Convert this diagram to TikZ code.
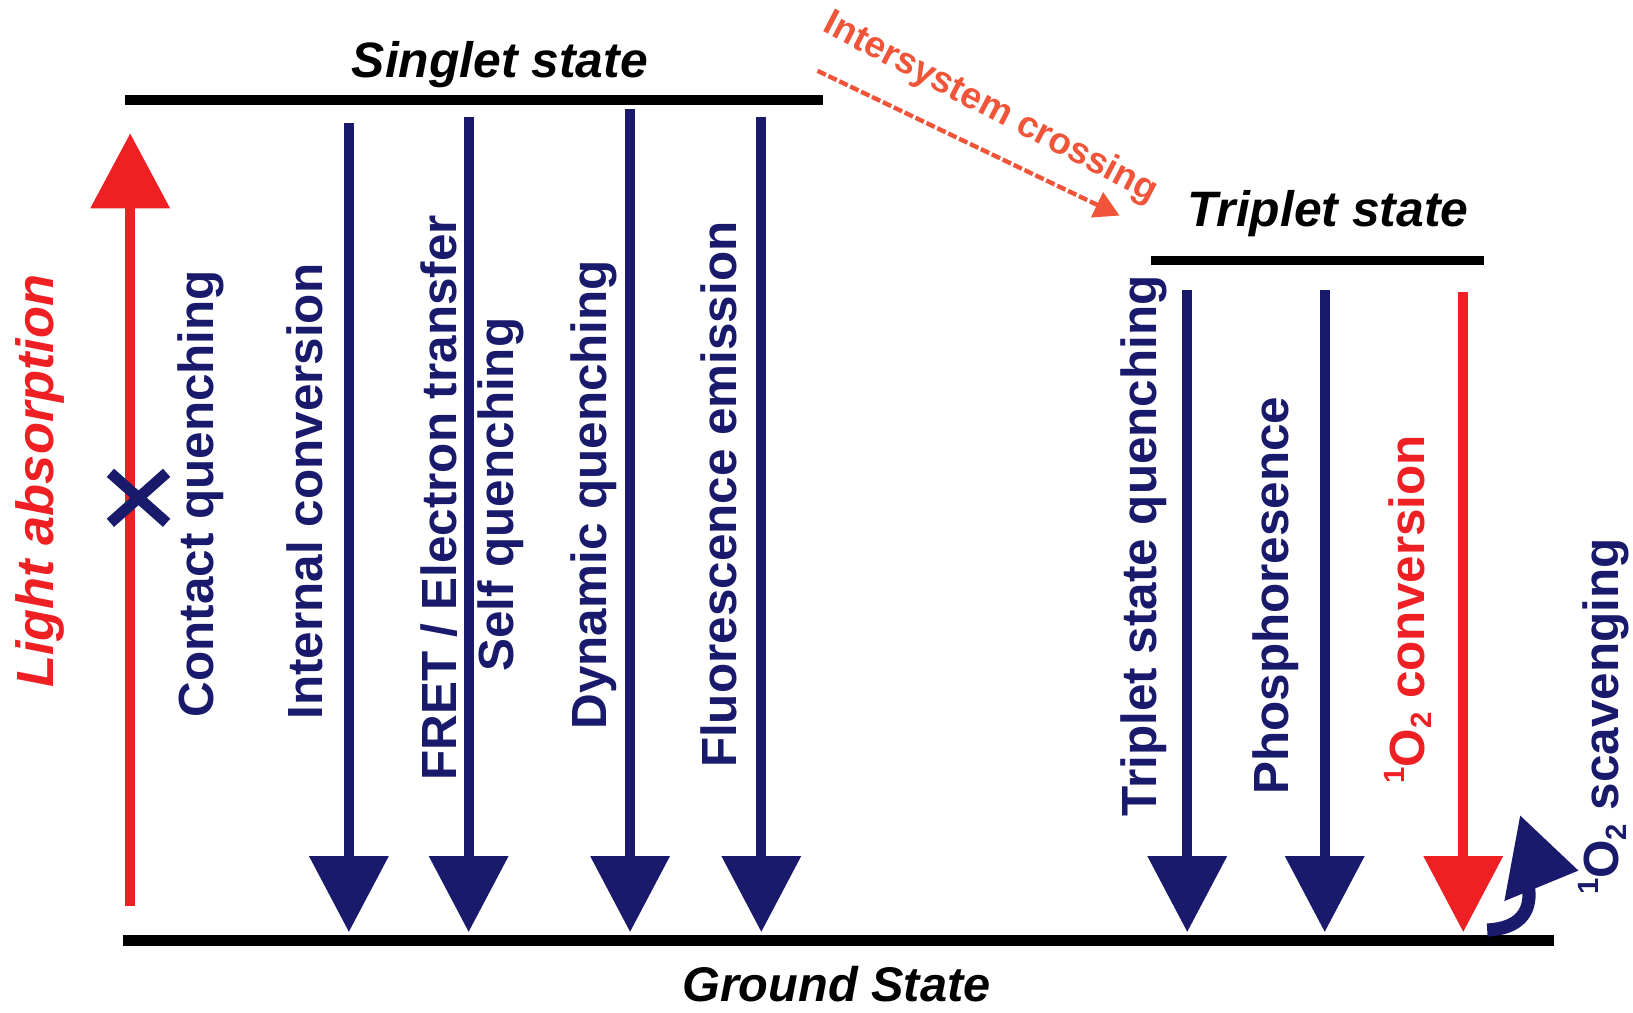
\documentclass[tikz,border=0pt]{standalone}
\usepackage{fontspec}
\setmainfont{Liberation Sans}
\usetikzlibrary{arrows.meta,calc}
\definecolor{navyc}{HTML}{1A1A6C}
\definecolor{redc}{HTML}{EE2024}
\definecolor{iscred}{HTML}{F0553A}
\newcommand{\singox}{\raisebox{0.75ex}{\fontsize{8}{8}\selectfont 1}O\raisebox{-0.3ex}{\fontsize{8}{8}\selectfont 2}}
\tikzset{
  lvl/.style={black, line width=2.5pt},
  dn/.style={navyc, line width=2.8pt, -{Triangle[width=7.4mm,length=7.3mm]}},
  dnred/.style={redc, line width=2.8pt, -{Triangle[width=7.4mm,length=7.3mm]}},
  lbl/.style={navyc, font=\bfseries\fontsize{13.5}{16}\selectfont, rotate=90, inner sep=0pt},
  redlbl/.style={lbl, redc},
  title/.style={black, font=\bfseries\itshape\fontsize{13.6}{16}\selectfont, inner sep=0pt}
}
\begin{document}
\begin{tikzpicture}[x=0.1mm,y=-0.1mm]
\useasboundingbox[fill=white] (0,0) rectangle (1568,972);
% levels
\coordinate (s1) at (120,96); \coordinate (s2) at (790,96);
\coordinate (t1) at (1105,250); \coordinate (t2) at (1425,250);
\coordinate (g1) at (118,903); \coordinate (g2) at (1492,903);
\draw[lvl] (s1) -- (s2);
\draw[lvl] (t1) -- (t2);
\draw[lvl, line width=2.8pt] (g1) -- (g2);
% titles
\node[title] (singlet) at (480,62) {Singlet state};
\node[title] (triplet) at (1275,205) {Triplet state};
\node[title, font=\bfseries\itshape\fontsize{13.3}{16}\selectfont] (ground) at (803,945) {Ground State};
% light absorption
\coordinate (la1) at (125,870); \coordinate (la2) at (125,128);
\draw[redc, line width=2.8pt, -{Triangle[width=7.4mm,length=7.2mm]}] (la1) -- (la2);
\node[redlbl, font=\bfseries\itshape\fontsize{14.3}{16}\selectfont] (lab) at (38,462) {Light absorption};
% cross
\coordinate (xc) at (133,478);
\draw[navyc, line width=3pt] ($(xc)+(-27,-24)$) -- ($(xc)+(27,24)$);
\draw[navyc, line width=3pt] ($(xc)+(-27,24)$) -- ($(xc)+(27,-24)$);
\node[lbl] (cq) at (193,474) {Contact quenching};
% singlet decays
\coordinate (ic1) at (335,118); \coordinate (ic2) at (335,895);
\coordinate (fr1) at (450,112); \coordinate (fr2) at (450,895);
\coordinate (dq1) at (605,105); \coordinate (dq2) at (605,895);
\coordinate (fe1) at (731,112); \coordinate (fe2) at (731,895);
\draw[dn] (ic1) -- (ic2);
\draw[dn] (fr1) -- (fr2);
\draw[dn] (dq1) -- (dq2);
\draw[dn] (fe1) -- (fe2);
\node[lbl] (icl) at (293,472) {Internal conversion};
\node[lbl] (frl) at (422,478) {FRET / Electron transfer};
\node[lbl] (sql) at (481,475) {Self quenching};
\node[lbl] (dql) at (570,475) {Dynamic quenching};
\node[lbl] (fel) at (690,475) {Fluorescence emission};
% intersystem crossing
\coordinate (isc1) at (785,68); \coordinate (isc2) at (1075,207);
\draw[iscred, line width=1.2pt, dash pattern=on 2.5pt off 0.8pt, -{Triangle[width=2.6mm,length=2.4mm]}] (isc1) -- (isc2);
\node[iscred, font=\bfseries\fontsize{10.1}{12}\selectfont, rotate=-27.5, inner sep=0pt] (iscl) at (951,104) {Intersystem crossing};
% triplet decays
\coordinate (tq1) at (1140,278); \coordinate (tq2) at (1140,895);
\coordinate (ph1) at (1272,278); \coordinate (ph2) at (1272,895);
\coordinate (oc1) at (1405,280); \coordinate (oc2) at (1405,895);
\draw[dn] (tq1) -- (tq2);
\draw[dn] (ph1) -- (ph2);
\draw[dnred] (oc1) -- (oc2);
\node[lbl] (tql) at (1098,524) {Triplet state quenching};
\node[lbl] (phl) at (1225,572) {Phosphoresence};
\node[redlbl] (ocl) at (1352,585) {\singox{} conversion};
% scavenging
\coordinate (sc1) at (1428,893); \coordinate (sc2) at (1516,836);
\draw[navyc, line width=3.6pt, -{Triangle[width=8mm,length=6.5mm]}] (sc1) .. controls (1492,890) and (1462,826) .. (sc2);
\node[lbl] (scl) at (1540,688) {\singox{} scavenging};
\end{tikzpicture}
\end{document}
